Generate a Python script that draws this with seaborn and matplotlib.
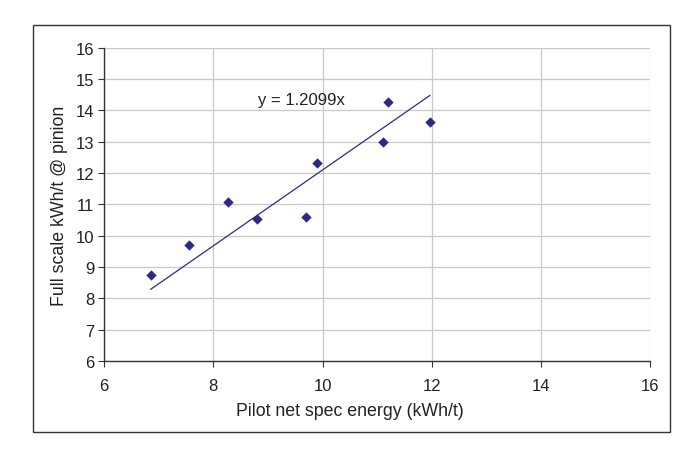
import numpy as np
import pandas as pd
import matplotlib
matplotlib.use('Agg')
import matplotlib.pyplot as plt
import seaborn as sns
from matplotlib.patches import Rectangle

# Dados
pilot = [6.85, 7.55, 8.27, 8.80, 9.70, 9.90, 11.10, 11.20, 11.97]
full_scale = [8.75, 9.72, 11.07, 10.52, 10.60, 12.32, 12.98, 14.28, 13.62]
slope = 1.2099

df = pd.DataFrame({'pilot': pilot, 'full': full_scale})
trend = pd.DataFrame({'pilot': [min(pilot), max(pilot)]})
trend['full'] = slope * trend['pilot']

sns.set_style('white')
plt.rcParams['font.family'] = ['Liberation Sans', 'DejaVu Sans']

navy = '#2B2B86'
fig = plt.figure(figsize=(6.9, 4.56), dpi=100)
ax = fig.add_axes([0.151, 0.206, 0.791, 0.687])

# Moldura externa
fig.patches.append(Rectangle((0.048, 0.05), 0.923, 0.893, transform=fig.transFigure,
                             fill=False, edgecolor='#333333', linewidth=1.0))

sns.lineplot(x='pilot', y='full', data=trend, ax=ax, color=navy, linewidth=0.9)
sns.scatterplot(x='pilot', y='full', data=df, ax=ax, marker='D', s=28,
                color=navy, edgecolor=navy, linewidth=0, zorder=3)

ax.set_xlim(6, 16)
ax.set_ylim(6, 16)
ax.set_xticks(range(6, 17, 2))
ax.set_yticks(range(6, 17, 1))
ax.grid(True, color='#c8c8c8', linewidth=0.9)
ax.set_axisbelow(True)
for s in ['top', 'right']:
    ax.spines[s].set_visible(False)
for s in ['left', 'bottom']:
    ax.spines[s].set_color('#333333')
    ax.spines[s].set_linewidth(1.0)
ax.tick_params(axis='both', direction='out', length=4, width=0.8, color='#333333',
               labelsize=12, labelcolor='#222222', left=True, bottom=True)
ax.tick_params(axis='x', pad=8)
ax.tick_params(axis='y', pad=3)

ax.set_xlabel('Pilot net spec energy (kWh/t)', fontsize=12.8, color='#222222', labelpad=8)
ax.set_ylabel('Full scale kWh/t @ pinion', fontsize=12.8, color='#222222', labelpad=6)
ax.xaxis.set_label_coords(0.45, -0.13)

ax.text(8.82, 14.35, 'y = 1.2099x', fontsize=12, color='#222222', va='center', ha='left')

fig.savefig('out.png', dpi=100)
